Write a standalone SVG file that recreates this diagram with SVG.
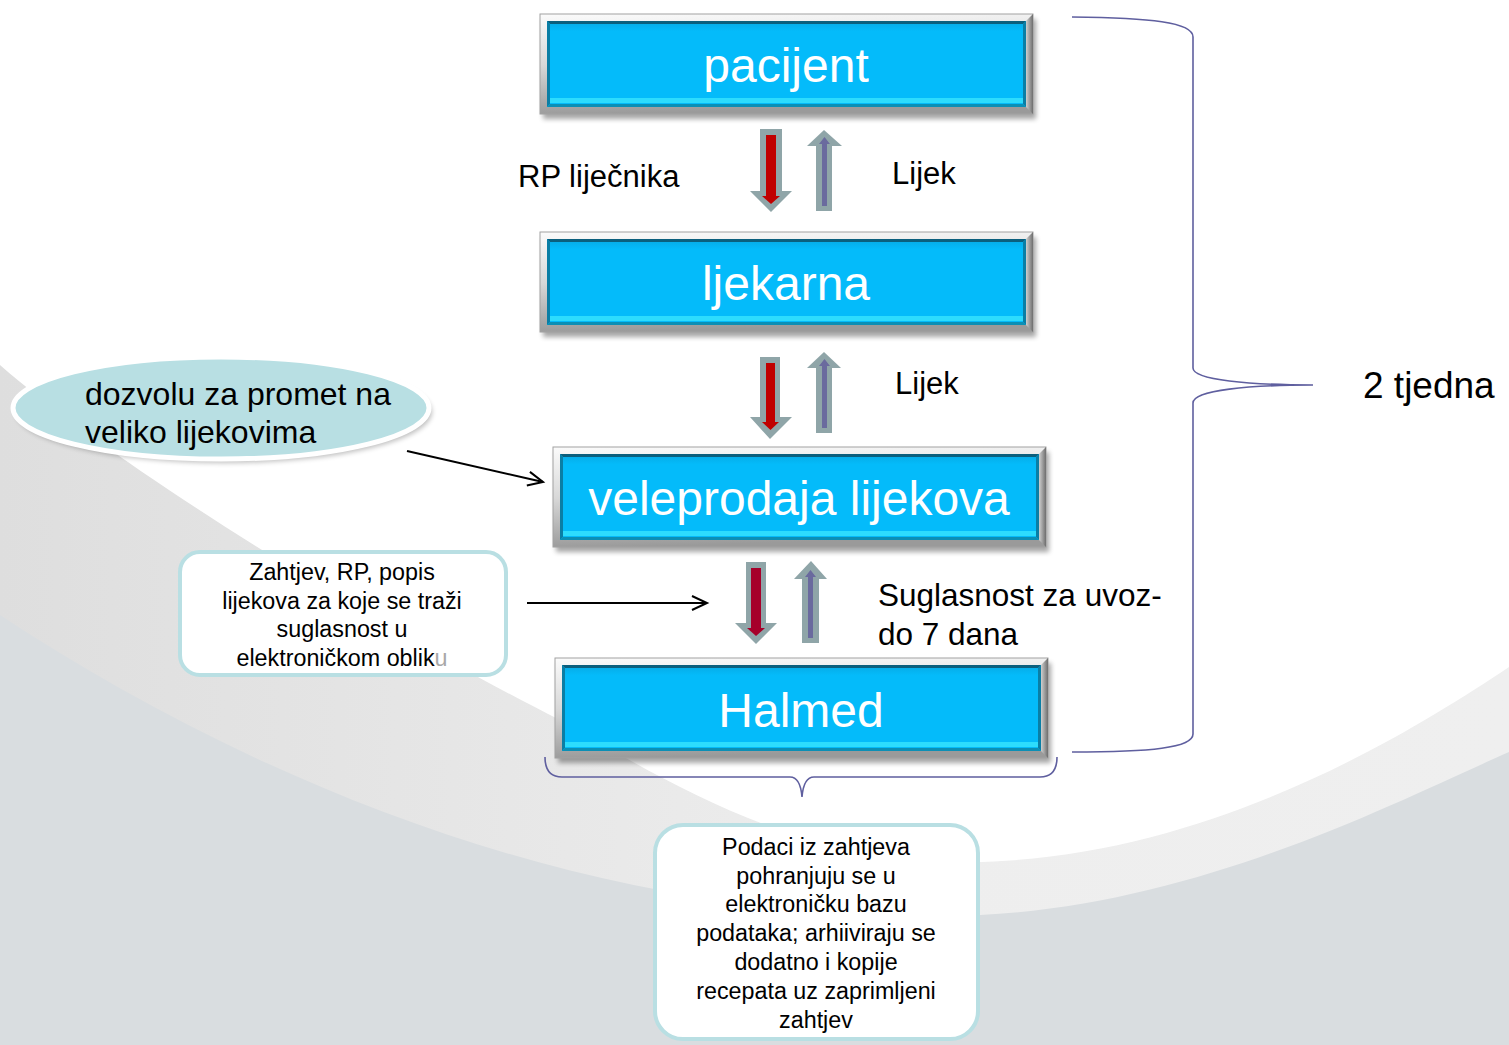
<svg xmlns="http://www.w3.org/2000/svg" xmlns:xlink="http://www.w3.org/1999/xlink" width="1509" height="1045" viewBox="0 0 1509 1045">
<style>
  .t { font-family: "Liberation Sans", Arial, sans-serif; fill: #000; }
  .boxlabel { font-family: "Liberation Sans", Arial, sans-serif; fill: #fff; font-size: 48px; text-anchor: middle; }
  .lbl { font-size: 31px; }
  .small { font-size: 23.3px; text-anchor: middle; }
  .note { fill: #fff; stroke: #b9dfe3; stroke-width: 4; }
  .line { fill: none; stroke: #000; stroke-width: 2; }
  .brace { fill: none; stroke: #5f5f9f; stroke-width: 1.6; }
  .aout { fill: #8fa5a8; }
  .ared { fill: #c00000; }
  .ared2 { fill: #a6002a; }
  .apur { fill: #6a6a9e; }
</style>
<defs>
  <linearGradient id="silver" x1="0" y1="0" x2="0.15" y2="1">
    <stop offset="0" stop-color="#fbfbfb"/>
    <stop offset="0.5" stop-color="#d8d8d8"/>
    <stop offset="1" stop-color="#9a9a9a"/>
  </linearGradient>
  <linearGradient id="silverR" x1="0" y1="0" x2="1" y2="0">
    <stop offset="0" stop-color="#cfcfcf"/>
    <stop offset="1" stop-color="#6e6e6e"/>
  </linearGradient>
  <linearGradient id="face" x1="0" y1="0" x2="0" y2="1">
    <stop offset="0" stop-color="#06a9e4"/>
    <stop offset="0.12" stop-color="#04bbfa"/>
    <stop offset="1" stop-color="#04bbfa"/>
  </linearGradient>
  <linearGradient id="band" x1="0" y1="0" x2="1" y2="0">
    <stop offset="0" stop-color="#dedede"/>
    <stop offset="0.6" stop-color="#eeeeee"/>
    <stop offset="1" stop-color="#efefef"/>
  </linearGradient>
  <filter id="shadow" x="-10%" y="-20%" width="120%" height="150%">
    <feGaussianBlur stdDeviation="2.5"/>
  </filter>
  <marker id="open" markerUnits="userSpaceOnUse" markerWidth="20" markerHeight="20" viewBox="0 0 20 20" refX="17" refY="10" orient="auto">
    <path d="M2,3 L17,10 L2,17" fill="none" stroke="#000" stroke-width="2"/>
  </marker>
  <g id="bevel">
    <rect x="3" y="5" width="493" height="100" fill="#000" opacity="0.35" filter="url(#shadow)"/>
    <rect x="0" y="0" width="493" height="100" fill="url(#silver)" stroke="#a2a2a2" stroke-width="1"/>
    <polygon points="493,0 493,100 486,93 486,7" fill="url(#silverR)"/>
    <rect x="7" y="7" width="479" height="86" fill="url(#face)"/>
    <polygon points="7,7 486,7 483,10 10,10" fill="#0b5f7d"/>
    <polygon points="7,7 10,10 10,90 7,93" fill="#0a7ea5"/>
    <polygon points="486,7 486,93 483,90 483,10" fill="#0a7ea5"/>
    <polygon points="7,93 486,93 483,90 10,90" fill="#0b8fb5"/>
    <rect x="10" y="84" width="473" height="5" fill="#2ddcfd"/>
  </g>
</defs>

<g id="background">
  <rect x="0" y="0" width="1509" height="1045" fill="#d9dde0"/>
  <path d="M0,0 V615 C250,780 600,930 980,915 C1200,905 1400,800 1509,752 V0 Z" fill="url(#band)"/>
  <path d="M0,0 V365 C120,470 400,640 560,720 C680,790 800,862 970,862 C1200,860 1400,740 1509,667 V0 Z" fill="#fff"/>
</g>

<g id="braces">
  <path class="brace" d="M1072,17 C1150,18 1193,22 1193,37 V368 C1193,380 1250,385 1313,385 C1250,385 1193,390 1193,403 V734 C1193,748 1150,752 1072,752"/>
  <path class="brace" d="M545,757 C545,770 550,777 562,777 H790 C798,777 801,785 802,797 C803,785 806,777 814,777 H1040 C1052,777 1057,770 1057,757"/>
  <text class="t" x="1363" y="398" style="font-size:37px">2 tjedna</text>
</g>

<g id="node-pacijent">
  <use xlink:href="#bevel" x="540" y="14"/>
  <text class="boxlabel" x="786" y="82">pacijent</text>
</g>
<g id="node-ljekarna">
  <use xlink:href="#bevel" x="540" y="232"/>
  <text class="boxlabel" x="786" y="300">ljekarna</text>
</g>
<g id="node-veleprodaja">
  <use xlink:href="#bevel" x="553" y="447"/>
  <text class="boxlabel" x="799" y="515">veleprodaja lijekova</text>
</g>
<g id="node-halmed">
  <use xlink:href="#bevel" x="555" y="658"/>
  <text class="boxlabel" x="801" y="727">Halmed</text>
</g>

<g id="node-dozvola">
  <ellipse cx="224" cy="412" rx="208" ry="51" fill="#000" opacity="0.25" filter="url(#shadow)"/>
  <ellipse cx="221" cy="408" rx="208" ry="51" fill="#b8dfe3" stroke="#fff" stroke-width="5"/>
  <text class="t" x="85" y="405" style="font-size:32px">dozvolu za promet na</text>
  <text class="t" x="85" y="443" style="font-size:32px">veliko lijekovima</text>
</g>

<g id="node-zahtjev">
  <rect class="note" x="180" y="552" width="326" height="123" rx="20"/>
  <text class="t small" x="342" y="580">Zahtjev, RP, popis</text>
  <text class="t small" x="342" y="609">lijekova za koje se traži</text>
  <text class="t small" x="342" y="637">suglasnost u</text>
  <text class="t small" x="342" y="666">elektroničkom oblik<tspan fill="#a8a8a8">u</tspan></text>
</g>

<g id="node-podaci">
  <rect class="note" x="655" y="825" width="323" height="214" rx="28"/>
  <text class="t small" x="816" y="855">Podaci iz zahtjeva</text>
  <text class="t small" x="816" y="884">pohranjuju se u</text>
  <text class="t small" x="816" y="912">elektroničku bazu</text>
  <text class="t small" x="816" y="941">podataka; arhiiviraju se</text>
  <text class="t small" x="816" y="970">dodatno i kopije</text>
  <text class="t small" x="816" y="999">recepata uz zaprimljeni</text>
  <text class="t small" x="816" y="1028">zahtjev</text>
</g>

<g id="connectors">
  <!-- pacijent <-> ljekarna -->
  <path class="aout" d="M760,129 H782 V191 H792 L771,212 L750,191 H760 Z"/>
  <path class="ared" d="M766,135 H776 V196 H780 L771,204 L762,196 H766 Z"/>
  <path class="aout" d="M816,211 H832 V146 H842 L824,130 L807,146 H816 Z"/>
  <path class="apur" d="M822,206 H827 V144 H830 L824.5,137 L819,144 H822 Z"/>
  <text class="t lbl" x="518" y="187">RP liječnika</text>
  <text class="t lbl" x="892" y="184">Lijek</text>

  <!-- ljekarna <-> veleprodaja -->
  <path class="aout" d="M760,357 H780 V417 H792 L770,439 L750,417 H760 Z"/>
  <path class="ared" d="M766,363 H775 V422 H779 L770.5,430 L762,422 H766 Z"/>
  <path class="aout" d="M816,433 H832 V368 H841 L824,352 L807,368 H816 Z"/>
  <path class="apur" d="M822,428 H827 V366 H830 L824.5,359 L819,366 H822 Z"/>
  <text class="t lbl" x="895" y="394">Lijek</text>

  <!-- veleprodaja <-> Halmed -->
  <path class="aout" d="M746,562 H766 V623 H777 L756,644 L735,623 H746 Z"/>
  <path class="ared2" d="M751,568 H761 V628 H765 L756,636 L747,628 H751 Z"/>
  <path class="aout" d="M802,643 H819 V579 H827 L811,561 L794,579 H802 Z"/>
  <path class="apur" d="M808,638 H813 V577 H816 L810.5,570 L805,577 H808 Z"/>
  <text class="t" x="878" y="606" style="font-size:31.5px">Suglasnost za uvoz-</text>
  <text class="t" x="878" y="645" style="font-size:31.5px">do 7 dana</text>

  <!-- line arrows -->
  <line class="line" x1="407" y1="451" x2="543" y2="482" marker-end="url(#open)"/>
  <line class="line" x1="527" y1="603" x2="707" y2="603" marker-end="url(#open)"/>
</g>
</svg>
